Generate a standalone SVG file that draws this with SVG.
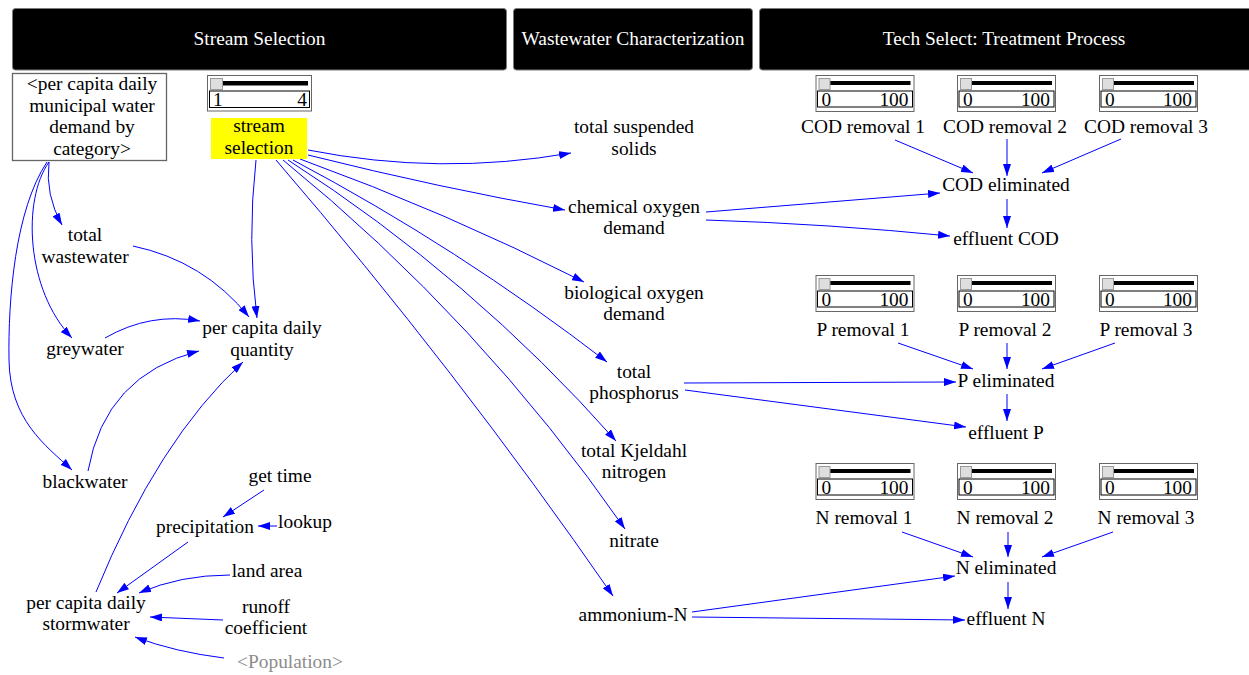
<svg xmlns="http://www.w3.org/2000/svg" width="1249" height="675" viewBox="0 0 1249 675" font-family="'Liberation Serif', 'Times New Roman', Times, 'DejaVu Serif', serif">
  <style>
    text { font-family: 'Liberation Serif', 'Times New Roman', Times, 'DejaVu Serif', serif; }
    .t { font-size: 19.4px; fill: #000; text-anchor: middle; }
    .s { text-anchor: start; }
    .e { text-anchor: end; }
    .hd { fill: #000; stroke: #7a7a7a; stroke-width: 1; }
    .ht { fill: #fff; }
    .shadow { fill: #8c8c8c; }
    .c { fill: none; stroke: #0000ff; stroke-width: 1; marker-end: url(#ah); }
  </style>
  <defs>
    <marker id="ah" markerUnits="userSpaceOnUse" markerWidth="12" markerHeight="8" refX="12" refY="4" orient="auto">
      <path d="M0,0 L12,4 L0,8 z" fill="#0000ff"/>
    </marker>
    <!-- 0..100 slider widget, origin at top-left of the frame -->
    <g id="sl100">
      <rect x="0.5" y="0.5" width="98" height="36" fill="#fff" stroke="#666"/>
      <rect x="4" y="6" width="91" height="4" fill="#000"/>
      <rect x="3.5" y="3.5" width="11" height="11" fill="#dedede" stroke="#9a9a9a"/>
      <rect x="2" y="16" width="95" height="16" fill="none" stroke="#000"/>
      <text class="t s" x="6" y="31">0</text>
      <text class="t e" x="93" y="31">100</text>
    </g>
  </defs>

  <rect width="1249" height="675" fill="#fff"/>

  <!-- section headers -->
  <g id="hdr-stream">
    <rect class="hd" x="12.5" y="8.5" width="494" height="61.5" rx="3"/>
    <text class="t ht" x="259.5" y="45">Stream Selection</text>
  </g>
  <g id="hdr-ww">
    <rect class="hd" x="513.5" y="8.5" width="239" height="61.5" rx="3"/>
    <text class="t ht" x="633" y="45">Wastewater Characterization</text>
  </g>
  <g id="hdr-tech">
    <rect class="hd" x="759.5" y="8.5" width="495" height="61.5" rx="3"/>
    <text class="t ht" x="1004" y="45">Tech Select: Treatment Process</text>
  </g>

  <!-- connectors -->
  <g id="connectors">
    <!-- demand by category -->
    <path class="c" d="M49,162 Q45,195 62,225"/>
    <path class="c" d="M49,162 C22,200 26,290 72,338"/>
    <path class="c" d="M47,162 C15,210 8,300 9,360 C10,420 45,445 72,470"/>
    <!-- into per capita daily quantity -->
    <path class="c" d="M133,246 Q204,261 249,317"/>
    <path class="c" d="M256,160 Q247,240 257,318"/>
    <path class="c" d="M105,338 Q150,312 200,321"/>
    <path class="c" d="M88,471 Q105,375 199,351"/>
    <path class="c" d="M96,592 Q158,440 243,362"/>
    <!-- stream selection fan -->
    <path class="c" d="M308,150 Q440,176 571,153"/>
    <path class="c" d="M308,155 Q440,188 565,210"/>
    <path class="c" d="M300,159 Q446,212 584,282"/>
    <path class="c" d="M293,160 Q459,248 607,362"/>
    <path class="c" d="M288,160 Q472,278 616,441"/>
    <path class="c" d="M283,160 Q480,320 625,529"/>
    <path class="c" d="M276,160 Q456,369 613,596"/>
    <!-- stormwater -->
    <path class="c" d="M264,490 L223,517"/>
    <path class="c" d="M277,526 L258,526"/>
    <path class="c" d="M188,542 L117,593"/>
    <path class="c" d="M230,575 Q180,575 139,593"/>
    <path class="c" d="M223,620 L150,617"/>
    <path class="c" d="M224,658 Q175,652 135,637"/>
    <!-- COD -->
    <path class="c" d="M706,212 L940,193"/>
    <path class="c" d="M706,220 Q830,224 950,236"/>
    <path class="c" d="M895,140 L973,173"/>
    <path class="c" d="M1007,139 L1007,176"/>
    <path class="c" d="M1121,139 L1042,173"/>
    <path class="c" d="M1007,199 L1007,228"/>
    <!-- P -->
    <path class="c" d="M684,383 L956,382"/>
    <path class="c" d="M685,390 L966,427"/>
    <path class="c" d="M898,343 L973,369"/>
    <path class="c" d="M1007,343 L1007,369"/>
    <path class="c" d="M1115,343 L1042,369"/>
    <path class="c" d="M1007,394 L1007,421"/>
    <!-- N -->
    <path class="c" d="M692,612 L955,576"/>
    <path class="c" d="M692,617 L965,620"/>
    <path class="c" d="M902,532 L973,557"/>
    <path class="c" d="M1008,532 L1008,557"/>
    <path class="c" d="M1113,532 L1042,557"/>
    <path class="c" d="M1008,582 L1008,609"/>
  </g>

  <!-- stream selection nodes -->
  <g id="demand-by-category">
    <rect x="12.5" y="73.5" width="154" height="87" fill="#fff" stroke="#666" stroke-width="1.3"/>
    <text class="t" x="92" y="90">&lt;per capita daily<tspan x="92" dy="21.5">municipal water</tspan><tspan x="92" dy="21.5">demand by</tspan><tspan x="92" dy="21.5">category&gt;</tspan></text>
  </g>
  <g id="stream-selection">
    <rect x="207.5" y="75.5" width="104" height="35.5" fill="#fff" stroke="#666"/>
    <rect x="218" y="81" width="90" height="4.5" fill="#000"/>
    <rect x="210.5" y="78.5" width="12" height="11" fill="#dedede" stroke="#9a9a9a"/>
    <rect x="209.5" y="91" width="100" height="16.5" fill="none" stroke="#000"/>
    <text class="t s" x="213" y="106">1</text>
    <text class="t e" x="307" y="106">4</text>
    <rect x="211" y="118" width="96" height="41" fill="#ffff00"/>
    <text class="t" x="259" y="132">stream<tspan x="259" dy="21.5">selection</tspan></text>
  </g>
  <g id="total-wastewater"><text class="t" x="85" y="241">total<tspan x="85" dy="21.5">wastewater</tspan></text></g>
  <g id="greywater"><text class="t" x="85" y="355">greywater</text></g>
  <g id="blackwater"><text class="t" x="85" y="488">blackwater</text></g>
  <g id="pc-daily-quantity"><text class="t" x="262" y="334">per capita daily<tspan x="262" dy="21.5">quantity</tspan></text></g>
  <g id="get-time"><text class="t" x="280" y="482">get time</text></g>
  <g id="precipitation"><text class="t" x="205" y="533">precipitation</text></g>
  <g id="lookup"><text class="t" x="305" y="528">lookup</text></g>
  <g id="land-area"><text class="t" x="267" y="577">land area</text></g>
  <g id="runoff-coefficient"><text class="t" x="266" y="612.5">runoff<tspan x="266" dy="21.5">coefficient</tspan></text></g>
  <g id="pc-daily-stormwater"><text class="t" x="86" y="608.5">per capita daily<tspan x="86" dy="21.5">stormwater</tspan></text></g>
  <g id="population"><text class="t shadow" x="290" y="668">&lt;Population&gt;</text></g>

  <!-- wastewater characterization -->
  <g id="tss"><text class="t" x="634" y="133">total suspended<tspan x="634" dy="21.5">solids</tspan></text></g>
  <g id="cod"><text class="t" x="634" y="212.5">chemical oxygen<tspan x="634" dy="21.5">demand</tspan></text></g>
  <g id="bod"><text class="t" x="634" y="298.5">biological oxygen<tspan x="634" dy="21.5">demand</tspan></text></g>
  <g id="tp"><text class="t" x="634" y="377.5">total<tspan x="634" dy="21.5">phosphorus</tspan></text></g>
  <g id="tkn"><text class="t" x="634" y="456.5">total Kjeldahl<tspan x="634" dy="21.5">nitrogen</tspan></text></g>
  <g id="nitrate"><text class="t" x="634" y="547">nitrate</text></g>
  <g id="ammonium"><text class="t" x="633" y="621">ammonium-N</text></g>

  <!-- treatment: COD -->
  <g id="cod-removal-1"><use href="#sl100" x="815.5" y="75"/><text class="t" x="863" y="132.5">COD removal 1</text></g>
  <g id="cod-removal-2"><use href="#sl100" x="957" y="75"/><text class="t" x="1005" y="132.5">COD removal 2</text></g>
  <g id="cod-removal-3"><use href="#sl100" x="1099" y="75"/><text class="t" x="1146" y="132.5">COD removal 3</text></g>
  <g id="cod-eliminated"><text class="t" x="1006" y="191">COD eliminated</text></g>
  <g id="effluent-cod"><text class="t" x="1006" y="244.5">effluent COD</text></g>

  <!-- treatment: P -->
  <g id="p-removal-1"><use href="#sl100" x="815.5" y="275"/><text class="t" x="863" y="336">P removal 1</text></g>
  <g id="p-removal-2"><use href="#sl100" x="957" y="275"/><text class="t" x="1005" y="336">P removal 2</text></g>
  <g id="p-removal-3"><use href="#sl100" x="1099" y="275"/><text class="t" x="1146" y="336">P removal 3</text></g>
  <g id="p-eliminated"><text class="t" x="1006" y="386.5">P eliminated</text></g>
  <g id="effluent-p"><text class="t" x="1006" y="438.5">effluent P</text></g>

  <!-- treatment: N -->
  <g id="n-removal-1"><use href="#sl100" x="815.5" y="463"/><text class="t" x="864" y="524">N removal 1</text></g>
  <g id="n-removal-2"><use href="#sl100" x="957" y="463"/><text class="t" x="1005" y="524">N removal 2</text></g>
  <g id="n-removal-3"><use href="#sl100" x="1099" y="463"/><text class="t" x="1146" y="524">N removal 3</text></g>
  <g id="n-eliminated"><text class="t" x="1006" y="573.5">N eliminated</text></g>
  <g id="effluent-n"><text class="t" x="1006" y="625">effluent N</text></g>
</svg>
